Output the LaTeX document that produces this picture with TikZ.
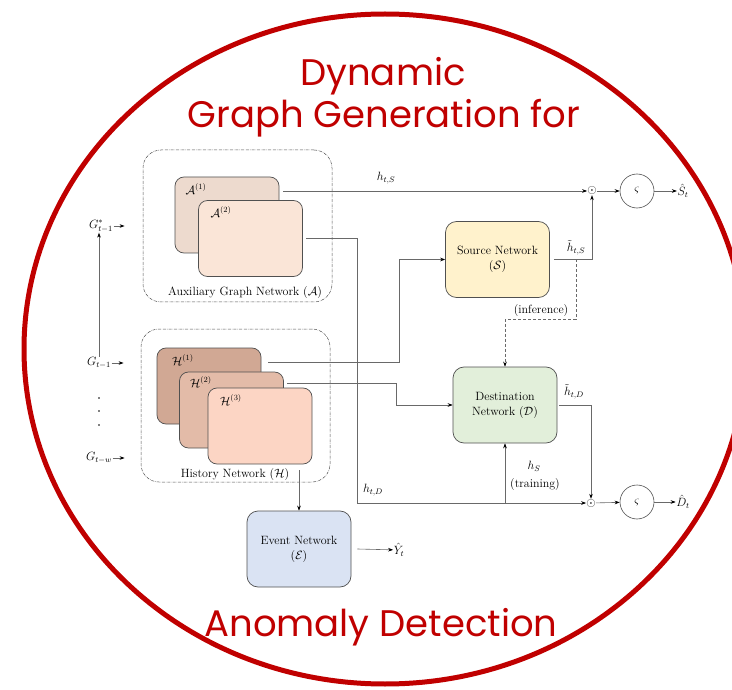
\documentclass[tikz,border=0pt]{standalone}
\usepackage{amsmath, amssymb}
\usepackage{fontspec}
\newfontfamily\titlefont{Poppins}
\usepackage{xcolor}
\usetikzlibrary{shapes, arrows, arrows.meta, positioning, fit}

\definecolor{ringred}{RGB}{192,0,0}
\definecolor{boxgray}{RGB}{80,80,80}
\definecolor{wiregray}{RGB}{105,105,105}
\definecolor{auxone}{RGB}{237,218,206}
\definecolor{auxtwo}{RGB}{250,229,215}
\definecolor{histone}{RGB}{209,168,148}
\definecolor{histtwo}{RGB}{227,187,168}
\definecolor{histthree}{RGB}{252,213,196}
\definecolor{srcfill}{RGB}{255,242,204}
\definecolor{dstfill}{RGB}{226,239,218}
\definecolor{evtfill}{RGB}{218,227,243}

\begin{document}
\begin{tikzpicture}[
            x=1pt, y=-1pt,
            stack/.style={rectangle, rounded corners=9pt, draw=boxgray, line width=0.7pt, minimum width=104pt, minimum height=76pt},
            net/.style={rectangle, rounded corners=11pt, draw=boxgray, line width=0.7pt, minimum width=104pt, minimum height=76pt, align=center, font=\fontsize{12}{15}\selectfont},
            group/.style={rectangle, rounded corners=18pt, draw=boxgray, densely dashdotted, line width=0.5pt},
            arrow/.style={->, >={Stealth[length=5pt, width=3.6pt, black]}, draw=wiregray, line width=0.6pt},
            op/.style={inner sep=0pt, font=\fontsize{12}{14}\selectfont},
            act/.style={circle, draw=boxgray, line width=0.6pt, minimum size=34pt, inner sep=0pt, font=\fontsize{13}{15}\selectfont},
            lab/.style={font=\fontsize{12}{14}\selectfont, inner sep=0.5pt},
            title/.style={font=\titlefont\fontsize{37}{40}\selectfont, text=ringred, anchor=base}
        ]
            \useasboundingbox (0,0) rectangle (732,690);
            \clip (0,0) rectangle (732,690);

            % outer ring and title
            \draw[ringred, line width=5pt] (385,349) ellipse [x radius=361, y radius=335];
            \node[title] (ttlA) at (383,86)  {Dynamic};
            \node[title] (ttlB) at (384,128) {Graph Generation for};
            \node[title] (ttlC) at (381,636) {Anomaly Detection};

            % auxiliary graph network
            \node[group, minimum width=189pt, minimum height=152pt] (auxgrp) at (237.5,226) {};
            \node[stack, fill=auxone] (aux1) at (227,215) {};
            \node[stack, fill=auxtwo] (aux2) at (250.5,238.5) {};
            \node[lab] (auxlab1) at (196,189) {$\mathcal{A}^{(1)}$};
            \node[lab] (auxlab2) at (221,212) {$\mathcal{A}^{(2)}$};
            \node[lab] (auxname) at (245,293) {Auxiliary Graph Network ($\mathcal{A}$)};

            % history network
            \node[group, minimum width=189pt, minimum height=153pt] (histgrp) at (235.5,405.5) {};
            \node[stack, fill=histone] (hist1) at (209,386) {};
            \node[stack, fill=histtwo] (hist2) at (231.5,410) {};
            \node[stack, fill=histthree] (hist3) at (260,426) {};
            \node[lab] (histlab1) at (183,360) {$\mathcal{H}^{(1)}$};
            \node[lab] (histlab2) at (201,382) {$\mathcal{H}^{(2)}$};
            \node[lab] (histlab3) at (231,400) {$\mathcal{H}^{(3)}$};
            \node[lab] (histname) at (235,475) {History Network ($\mathcal{H}$)};

            % networks
            \node[net, fill=srcfill] (src) at (497.5,259.5) {Source Network\\($\mathcal{S}$)};
            \node[net, fill=dstfill] (dst) at (505,405) {Destination\\Network ($\mathcal{D}$)};
            \node[net, fill=evtfill] (evt) at (299,549) {Event Network\\($\mathcal{E}$)};

            % inputs
            \node[lab] (gstar) at (101,226) {$G^{*}_{t-1}$};
            \node[lab] (gprev) at (99,363) {$G_{t-1}$};
            \node[lab] (gwin)  at (99,458) {$G_{t-w}$};
            \foreach \y in {398,411,425}
                \fill (99,\y) circle (0.8);

            % outputs
            \node[op] (dotS) at (592,191) {$\odot$};
            \node[act] (sigS) at (637,191) {$\varsigma$};
            \node[lab] (outS) at (683,191) {$\hat{S}_t$};
            \node[op] (dotD) at (591,503) {$\odot$};
            \node[act] (sigD) at (637,502) {$\varsigma$};
            \node[lab] (outD) at (683,502) {$\hat{D}_t$};
            \node[lab] (outY) at (399,550) {$\hat{Y}_t$};

            \coordinate (a1out) at (283,191);
            \coordinate (a2out) at (306,238);
            \coordinate (hDjog) at (357,503);
            \coordinate (h1out) at (268,362);
            \coordinate (h2out) at (287,383);
            \coordinate (hEout) at (299,470);

            % connectors
            \draw[arrow] (gstar.east) -- ++(11,0);
            \draw[arrow] (gprev.east) -- ++(12,0);
            \draw[arrow] (gwin.east) -- ++(12,0);
            \draw[arrow] (gprev.north) -- (gprev.north |- gstar.south);

            \draw[arrow] (a1out) -- (dotS);
            \node[lab] (hSlab0) at (386,178) {$h_{t,S}$};
            \draw[arrow] (a2out) -| (hDjog) -- (dotD);
            \node[lab] (hDlab) at (373,490) {$h_{t,D}$};
            \draw[arrow] (h1out) -| ([xshift=-46pt]src.west) -- (src.west);
            \draw[arrow] (h2out) -| ([xshift=-56pt]dst.west) -- (dst.west);
            \draw[arrow] (hEout) -- (evt.north);
            \draw[arrow] ([xshift=6pt]evt.east) -- (outY);

            \draw[arrow] ([xshift=4pt]src.east) -| (dotS);
            \node[lab] (hSlab) at (576,248) {$\tilde{h}_{t,S}$};
            \draw[arrow, densely dashed] ([xshift=26pt]src.east) -- ++(0,60) -| (dst.north);
            \node[lab, anchor=east] (inflab) at (569,311) {(inference)};

            \draw[arrow] ([xshift=2pt]dst.east) -| (dotD);
            \node[lab] (hDtlab) at (574,392) {$\tilde{h}_{t,D}$};
            \draw[arrow] (dst.south |- dotD) -- (dst.south);
            \node[lab] (hsrc) at (534,466) {$h_{S}$};
            \node[lab] (trainlab) at (535,485) {(training)};

            \draw[arrow] (dotS) -- (sigS);
            \draw[arrow] (sigS) -- (outS);
            \draw[arrow] (dotD) -- (sigD);
            \draw[arrow] (sigD) -- (outD);
        \end{tikzpicture}
\end{document}
